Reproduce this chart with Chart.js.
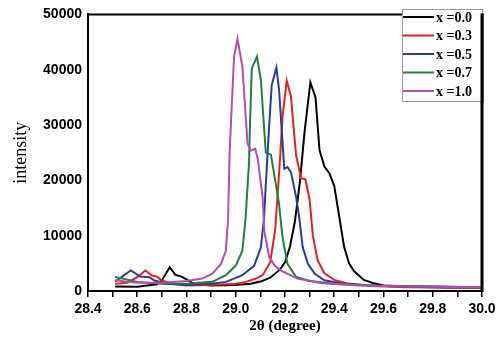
<!DOCTYPE html>
<html><head><meta charset="utf-8">
<script src="https://cdn.jsdelivr.net/npm/chart.js@4/dist/chart.umd.min.js"></script>
<style>html,body{margin:0;padding:0;background:#fff}#wrap{width:500px;height:351px}</style>
</head><body><div id="wrap"><canvas id="c" width="500" height="351"></canvas></div>
<script>
const seriesLabels = ['x =0.0', 'x =0.3', 'x =0.5', 'x =0.7', 'x =1.0'];
const seriesColors = ['#000000', '#e3211f', '#2c3a98', '#1d8040', '#b54cb2'];

const angle00 = [28.51,28.6,28.68,28.70,28.732,28.755,28.78,28.80,28.83,28.9,29.0,29.06,29.10,29.14,29.18,29.20,29.22,29.24,29.26,29.28,29.303,29.324,29.34,29.36,29.38,29.40,29.42,29.44,29.46,29.48,29.52,29.56,29.6,29.7,29.85,30.0];
const inten00 = [800,750,1200,1950,4300,2900,2600,2100,1300,1000,1100,1300,1700,2400,3900,5200,8000,12500,19500,29000,37700,35000,25500,22500,21300,19000,13500,8000,5000,3600,2000,1400,1000,750,650,600];

const angle03 = [28.51,28.56,28.60,28.633,28.66,28.68,28.70,28.74,28.8,28.9,29.0,29.04,29.08,29.11,29.14,29.16,29.18,29.19,29.207,29.224,29.245,29.265,29.283,29.30,29.313,29.333,29.36,29.40,29.45,29.55,29.7,30.0];
const inten03 = [1300,1500,2500,3700,2800,2600,1900,1300,1000,1100,1300,1650,2200,2900,5200,11000,24000,31600,38000,35200,24500,20400,20200,16500,10000,5500,3200,2000,1400,900,700,600];

const angle05 = [28.51,28.574,28.612,28.65,28.67,28.72,28.8,28.9,28.96,29.027,29.075,29.102,29.115,29.122,29.136,29.146,29.165,29.176,29.197,29.21,29.224,29.245,29.258,29.272,29.293,29.32,29.36,29.45,29.6,30.0];
const inten05 = [1700,3700,2600,2500,1900,1300,1100,1300,1650,2850,4600,7900,13200,19200,30000,37200,40400,36300,22100,22400,21500,17000,13200,7900,4900,3150,1950,1200,900,700];

const angle07 = [28.51,28.57,28.6,28.7,28.8,28.905,28.96,29.0,29.027,29.04,29.054,29.058,29.065,29.086,29.102,29.122,29.136,29.143,29.16,29.175,29.19,29.21,29.245,29.3,29.4,29.55,29.8,30.0];
const inten07 = [2550,1950,1650,1300,1300,1650,2850,4600,7300,13200,23300,30400,40200,42400,38100,25000,24800,24600,20000,16000,9700,4900,2550,1800,1300,1000,800,700];

const angle10 = [28.51,28.55,28.6,28.7,28.8,28.864,28.905,28.94,28.96,28.969,28.975,28.993,29.007,29.027,29.048,29.061,29.079,29.089,29.109,29.116,29.136,29.16,29.184,29.25,29.35,29.5,29.7,30.0];
const inten10 = [2000,1700,1500,1500,1800,2250,3150,4900,7300,13200,25000,42300,45600,40500,26600,25400,25700,24000,17000,10800,6100,4500,3700,2250,1400,1000,800,700];

const xTickMin = 28.4, xTickMax = 30.0, xTickStep = 0.1;
const yTickMin = 0, yTickMax = 50000, yTickStep = 10000;

const angles = [angle00, angle03, angle05, angle07, angle10];
const intens = [inten00, inten03, inten05, inten07, inten10];
const drawOrder = [4, 3, 2, 1, 0];

const datasets = seriesLabels.map((lab, i) => ({
  label: lab,
  data: angles[i].map((a, j) => ({x: a, y: intens[i][j]})),
  borderColor: seriesColors[i],
  backgroundColor: seriesColors[i],
  borderWidth: 2,
  pointRadius: 0,
  tension: 0,
  fill: false,
  order: drawOrder[i]
}));

const framePlugin = {
  id: 'frame',
  afterDraw(chart) {
    const {ctx, chartArea: a} = chart;
    ctx.save();
    ctx.strokeStyle = '#000';
    ctx.lineWidth = 2;
    ctx.beginPath(); ctx.moveTo(a.left - 1, a.top); ctx.lineTo(a.right, a.top); ctx.stroke();
    ctx.lineWidth = 3;
    ctx.beginPath(); ctx.moveTo(a.right, a.top - 1); ctx.lineTo(a.right, a.bottom + 1); ctx.stroke();
    // legend box
    const bx = 402, by = 9, bw = a.right - 402, bh = 92;
    ctx.fillStyle = '#fff';
    ctx.fillRect(bx, by, bw, bh);
    ctx.strokeStyle = '#999';
    ctx.lineWidth = 1;
    ctx.strokeRect(bx + 0.5, by + 0.5, bw, bh);
    ctx.lineWidth = 3;
    ctx.strokeStyle = '#000';
    ctx.beginPath(); ctx.moveTo(a.right, a.top - 1); ctx.lineTo(a.right, by + bh + 2); ctx.stroke();
    ctx.font = 'bold 14px "Liberation Serif", serif';
    ctx.textBaseline = 'middle';
    ctx.textAlign = 'left';
    chart.data.datasets.forEach((ds, i) => {
      const y = 17 + i * 18.5;
      ctx.strokeStyle = ds.borderColor;
      ctx.lineWidth = 2;
      ctx.beginPath(); ctx.moveTo(403, y); ctx.lineTo(434, y); ctx.stroke();
      ctx.fillStyle = '#000';
      ctx.fillText(ds.label, 436, y + 1);
    });
    ctx.restore();
  }
};

new Chart(document.getElementById('c'), {
  type: 'line',
  data: {datasets},
  options: {
    responsive: false,
    animation: false,
    layout: {padding: {left: 0, right: 18, top: 10, bottom: 0}},
    plugins: {legend: {display: false}, tooltip: {enabled: false}},
    scales: {
      x: {
        type: 'linear',
        min: xTickMin, max: xTickMax,
        afterFit(s) { s.height = 60; },
        border: {display: true, color: '#000', width: 2},
        grid: {drawOnChartArea: false, drawTicks: true, tickLength: 6, color: '#000', lineWidth: 1.5},
        ticks: {
          stepSize: xTickStep, autoSkip: false, maxRotation: 0, padding: 4,
          color: '#000', font: {family: '"Liberation Sans", Arial, sans-serif', weight: 'bold', size: 14},
          callback: v => (Math.round(v * 10) % 2 === 0 ? v.toFixed(1) : '')
        },
        title: {display: true, text: '2θ (degree)', color: '#000', font: {family: '"Liberation Serif", serif', weight: 'bold', size: 15}, padding: {top: 0, bottom: 16}}
      },
      y: {
        min: yTickMin, max: yTickMax,
        afterFit(s) { s.width = 88; },
        border: {display: true, color: '#000', width: 2},
        grid: {drawOnChartArea: false, drawTicks: false, color: '#000'},
        ticks: {stepSize: yTickStep, padding: 6, color: '#000', font: {family: '"Liberation Sans", Arial, sans-serif', weight: 'bold', size: 14}, callback: v => String(v)},
        title: {display: true, text: 'intensity', color: '#000', font: {family: '"Liberation Serif", serif', size: 18}, padding: {top: 10, bottom: 0}}
      }
    }
  },
  plugins: [framePlugin]
});
</script>
</body></html>
